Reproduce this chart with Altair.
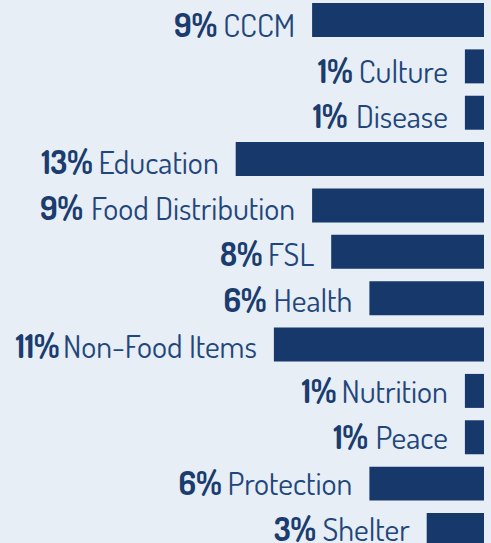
import glob
import os
import struct
import subprocess

import altair as alt
import pandas as pd

categories = ["CCCM", "Culture", "Disease", "Education", "Food Distribution", "FSL",
              "Health", "Non-Food Items", "Nutrition", "Peace", "Protection", "Shelter"]
values = [9, 1, 1, 13, 9, 8, 6, 11, 1, 1, 6, 3]

FONT = "Dosis"
SIZE = 32


# ---- text width helper: read advance widths from the installed font file ----
def find_font_files():
    paths = []
    try:
        out = subprocess.run(["fc-match", "-f", "%{file}", "Dosis"], capture_output=True,
                             text=True, timeout=5).stdout.strip()
        if out and "osis" in out.lower():
            paths.append(out)
    except Exception:
        pass
    roots = ["/usr/share/fonts", "/usr/local/share/fonts", "/usr/share/fonts-dosis",
             os.path.expanduser("~/.fonts"), os.path.expanduser("~/.local/share/fonts"),
             "/root/.fonts", "/root/.local/share/fonts", "/opt", "/usr/local/lib", "/home"]
    for root in roots:
        try:
            paths += glob.glob(os.path.join(root, "**", "*[Dd]osis*"), recursive=True)
        except Exception:
            pass
    paths = [p for p in paths if p.lower().endswith((".ttf", ".otf"))]

    def rank(p):
        b = os.path.basename(p).lower()
        if "regular" in b:
            return 0
        if any(k in b for k in ("bold", "light", "medium", "semi", "extra", "black")):
            return 3
        if "wght" in b or "variable" in b:
            return 1
        return 2
    return sorted(set(paths), key=rank)


def font_width_fn(path):
    data = open(path, "rb").read()
    off0 = struct.unpack(">I", data[12:16])[0] if data[:4] == b"ttcf" else 0
    num = struct.unpack(">H", data[off0 + 4:off0 + 6])[0]
    tables = {}
    for i in range(num):
        rec = off0 + 12 + 16 * i
        tag = data[rec:rec + 4].decode("latin1")
        _, off, _ln = struct.unpack(">III", data[rec + 4:rec + 16])
        tables[tag] = off
    if "fvar" in tables:
        fv = tables["fvar"]
        axes_off, axis_count, axis_size = struct.unpack(">HHH", data[fv + 4:fv + 6] + data[fv + 8:fv + 12])
        for a in range(axis_count):
            ar = fv + axes_off + a * axis_size
            if data[ar:ar + 4] == b"wght":
                default = struct.unpack(">i", data[ar + 8:ar + 12])[0] / 65536
                if not 350 <= default <= 450:
                    raise ValueError("variable default weight")
    upem = struct.unpack(">H", data[tables["head"] + 18:tables["head"] + 20])[0]
    nhm = struct.unpack(">H", data[tables["hhea"] + 34:tables["hhea"] + 36])[0]
    hm = tables["hmtx"]
    adv = [struct.unpack(">H", data[hm + 4 * i:hm + 4 * i + 2])[0] for i in range(nhm)]
    cm = tables["cmap"]
    ncm = struct.unpack(">H", data[cm + 2:cm + 4])[0]
    sub, best = None, -1
    for i in range(ncm):
        _pid, _eid, off = struct.unpack(">HHI", data[cm + 4 + 8 * i:cm + 12 + 8 * i])
        fmt = struct.unpack(">H", data[cm + off:cm + off + 2])[0]
        score = {12: 3, 4: 2}.get(fmt, 0)
        if score > best:
            best, sub = score, cm + off
    fmt = struct.unpack(">H", data[sub:sub + 2])[0]
    if fmt == 4:
        segx2 = struct.unpack(">H", data[sub + 6:sub + 8])[0]
        seg = segx2 // 2
        ends = struct.unpack(f">{seg}H", data[sub + 14:sub + 14 + segx2])
        so = sub + 16 + segx2
        starts = struct.unpack(f">{seg}H", data[so:so + segx2])
        do = so + segx2
        deltas = struct.unpack(f">{seg}h", data[do:do + segx2])
        ro = do + segx2
        ros = struct.unpack(f">{seg}H", data[ro:ro + segx2])

        def lookup(c):
            for k in range(seg):
                if starts[k] <= c <= ends[k]:
                    if ros[k] == 0:
                        return (c + deltas[k]) & 0xFFFF
                    addr = ro + 2 * k + ros[k] + 2 * (c - starts[k])
                    g = struct.unpack(">H", data[addr:addr + 2])[0]
                    return (g + deltas[k]) & 0xFFFF if g else 0
            return 0
    elif fmt == 12:
        ng = struct.unpack(">I", data[sub + 12:sub + 16])[0]
        groups = [struct.unpack(">III", data[sub + 16 + 12 * i:sub + 28 + 12 * i]) for i in range(ng)]

        def lookup(c):
            for s, e, g in groups:
                if s <= c <= e:
                    return g + c - s
            return 0
    else:
        raise ValueError("cmap")

    def width(s):
        return sum(adv[min(lookup(ord(ch)), nhm - 1)] for ch in s) / upem * SIZE
    return width


# approximate Dosis Regular advance widths (em) if the font file cannot be read
W = {" ": 0.15, "-": 0.28, "C": 0.52, "M": 0.66, "D": 0.56, "E": 0.44, "F": 0.46,
     "S": 0.49, "L": 0.45, "H": 0.56, "N": 0.56, "I": 0.22, "P": 0.49,
     "a": 0.46, "b": 0.49, "c": 0.41, "d": 0.49, "e": 0.46, "h": 0.48, "i": 0.20,
     "l": 0.23, "m": 0.74, "n": 0.48, "o": 0.48, "r": 0.31, "s": 0.39, "t": 0.28,
     "u": 0.48}


def fallback_width(s):
    return sum(W.get(ch, 0.45) for ch in s) * SIZE


text_width = fallback_width
for p in find_font_files():
    try:
        fn = font_width_fn(p)
        if 80 < fn("Education") < 160:
            text_width = fn
            break
    except Exception:
        continue

namew = [text_width(c) for c in categories]

df = pd.DataFrame({"cat": categories, "val": values, "namew": namew})
df["pct"] = df["val"].astype(str) + "%"

DMAX = 25.34
PX = 484 / DMAX
BG = "#E7EEF6"
BAR = "#16386B"
TXT_NAME = "#22467B"
TXT_PCT = "#1A3C6E"
GAP = 17
SEP = 7

ybar = alt.Y("cat:N", sort=categories, axis=None,
             scale=alt.Scale(paddingInner=0.267, paddingOuter=0.065))
# text rows sit on their own baseline grid (slightly tighter than the bars)
ytxt = alt.Y("cat:N", sort=categories, axis=None,
             scale=alt.Scale(type="point", range=[36.7, 541.0], padding=0))
xscale = alt.Scale(domain=[0, DMAX], reverse=True, nice=False, zero=True)
x = alt.X("val:Q", axis=None, scale=xscale)

base = alt.Chart(df)
bars = base.mark_bar(color=BAR).encode(x=x, x2=alt.datum(0), y=ybar)
names = base.mark_text(align="right", baseline="alphabetic", dx=-GAP, font=FONT,
                       fontSize=SIZE, fontWeight=400, color=TXT_NAME).encode(
    x=x, y=ytxt, text="cat:N")
pcts = base.transform_calculate(
    px=f"datum.val + ({GAP} + datum.namew + {SEP}) / {PX}"
).mark_text(align="right", baseline="alphabetic", font=FONT, fontSize=SIZE,
            fontWeight="bold", color=TXT_PCT).encode(
    x=alt.X("px:Q", axis=None, scale=xscale),
    y=ytxt, text="pct:N")

chart = alt.layer(bars, alt.layer(names, pcts)).resolve_scale(y="independent").properties(
    width=484, height=550, background=BG, padding={"left": 0, "top": 0, "right": 7, "bottom": 0},
    autosize=alt.AutoSizeParams(type="none")
).configure_view(stroke=None)

chart.save("out.html", embed_options={"renderer": "svg", "actions": False})
